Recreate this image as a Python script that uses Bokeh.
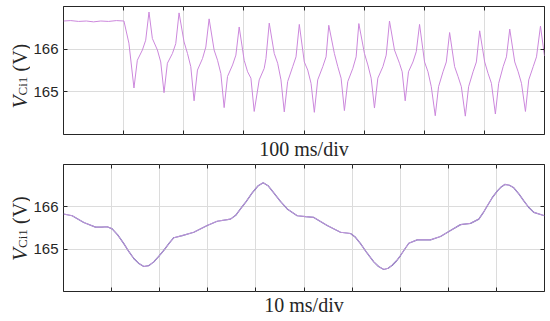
import math
from bokeh.plotting import figure
from bokeh.models import FixedTicker, LinearAxis, Range1d
from bokeh.layouts import column, row
from bokeh.core.properties import value
from bokeh.embed import file_html
from bokeh.resources import INLINE

# ---------------- data ----------------
# top panel: 100 ms/div, time in ms, voltage in V
top_t = [0, 12, 25, 38, 50, 62, 75, 88, 100.5,
         108.8, 117.2, 122.8, 131.2, 136.7, 142.2, 147.8, 156.2, 161.7,
         167.2, 172.8, 181.2, 186.7, 192.2, 200.5, 206.2, 211.7,
         217.2, 222.8, 231.2, 236.7, 242.2, 250.5, 256.2, 261.7,
         267.2, 272.8, 281.2, 286.7, 292.2, 300.5, 306.2, 311.7,
         317.2, 325.5, 333.8, 336.7, 342.2, 350.5, 356.2, 361.7,
         367.2, 372.8, 381.2, 386.7, 392.2, 400.5, 406.2, 411.7,
         417.2, 422.8, 431.2, 436.7, 441.2, 450.5, 456.2, 461.7,
         467.2, 472.8, 481.2, 486.7, 491.2, 500.5, 506.2, 511.7,
         517.2, 522.8, 531.2, 536.7, 542.2, 550.5, 558.8, 563.3,
         568.3, 573.8, 581.2, 586.7, 592.2, 600.5, 606.2, 611.7,
         618.3, 623.8, 631.2, 636.7, 642.2, 650.5, 656.2, 661.7,
         668.3, 673.8, 681.2, 686.7, 692.2, 700.5, 706.2, 711.7,
         718.3, 723.8, 731.2, 736.7, 742.2, 750.5, 756.2, 761.7,
         768.3, 773.8, 781.2, 786.7, 793.3, 800.0]
top_v = [166.66, 166.67, 166.65, 166.66, 166.64, 166.66, 166.65, 166.67, 166.66,
         166.14, 165.09, 165.74, 165.98, 166.21, 166.87, 166.25, 165.98, 165.70,
         164.98, 165.67, 165.90, 166.13, 166.85, 166.17, 165.90, 165.59,
         164.79, 165.51, 165.78, 166.05, 166.71, 165.98, 165.74, 165.43,
         164.63, 165.36, 165.63, 165.86, 166.52, 165.74, 165.47, 165.32,
         164.54, 165.28, 165.55, 165.78, 166.61, 165.90, 165.67, 165.28,
         164.53, 165.24, 165.59, 165.82, 166.58, 165.70, 165.51, 165.20,
         164.52, 165.28, 165.59, 165.82, 166.56, 165.90, 165.59, 165.32,
         164.56, 165.24, 165.55, 165.82, 166.60, 165.90, 165.63, 165.32,
         164.62, 165.32, 165.59, 165.86, 166.66, 165.98, 165.67, 165.47,
         164.79, 165.47, 165.70, 165.94, 166.58, 165.70, 165.47, 165.12,
         164.44, 165.12, 165.47, 165.70, 166.39, 165.59, 165.36, 165.12,
         164.43, 165.12, 165.47, 165.70, 166.43, 165.70, 165.43, 165.20,
         164.48, 165.20, 165.59, 165.82, 166.47, 165.70, 165.47, 165.20,
         164.54, 165.28, 165.59, 165.82, 166.54, 165.84]

# bottom panel: 10 ms/div
bot_t = [0.0, 1.81, 4.22, 6.65, 8.0, 9.09, 10.12, 11.3, 12.54, 13.6, 14.62, 15.6,
         16.69, 17.7, 18.77, 19.8, 20.85, 21.9, 22.93, 24.68, 27.09, 29.88, 31.95,
         34.72, 35.8, 36.80, 38.0, 39.23, 40.4, 41.52, 42.6, 43.72, 45.1, 46.51,
         48.59, 50.3, 52.04, 54.82, 57.59, 59.67, 60.7, 61.75, 63.1, 64.51, 65.5,
         66.59, 67.5, 68.34, 69.2, 70.06, 71.0, 71.79, 73.53, 76.30, 78.38, 80.46,
         82.54, 84.62, 86.34, 87.2, 88.09, 89.1, 90.17, 91.0, 91.75, 92.7, 93.62,
         94.7, 95.70, 96.7, 97.78, 100.0]
bot_v = [165.83, 165.79, 165.63, 165.52, 165.52, 165.53, 165.48, 165.33, 165.13, 164.94,
         164.78, 164.67, 164.59, 164.61, 164.70, 164.83, 164.97, 165.13, 165.27, 165.32,
         165.40, 165.56, 165.66, 165.71, 165.80, 165.95, 166.13, 166.33, 166.49, 166.57,
         166.49, 166.33, 166.13, 165.95, 165.79, 165.77, 165.75, 165.56, 165.40, 165.37,
         165.28, 165.13, 164.91, 164.70, 164.59, 164.52, 164.55, 164.62, 164.72, 164.85,
         165.01, 165.14, 165.22, 165.22, 165.30, 165.44, 165.58, 165.61, 165.71, 165.85,
         166.02, 166.21, 166.37, 166.47, 166.53, 166.51, 166.45, 166.30, 166.14, 165.99,
         165.87, 165.79]

y_ticks = [165, 166]
y_tick_labels = {165: "165", 166: "166"}
top_x_ticks = [0, 100, 200, 300, 400, 500, 600, 700, 800]
bot_x_ticks = [0, 10, 20, 30, 40, 50, 60, 70, 80, 90, 100]
top_div_label = "100 ms/div"
bot_div_label = "10 ms/div"
y_label_main = "V"
y_label_sub = "Ci1"
y_label_unit = "(V)"

FRAME = "#262626"
GRID = "#dcdcdc"
LAB_W = 30


def tick_axis(ax, ticker, ticks):
    ax.ticker = ticker
    ax.major_tick_in = 4
    ax.major_tick_out = 0
    ax.minor_tick_line_color = None
    ax.major_tick_line_color = FRAME
    ax.axis_line_color = None
    ax.major_label_overrides = {t: "" for t in ticks}
    ax.major_label_text_font_size = "1px"
    ax.major_label_standoff = 0


def make_panel(height, btop, bbot, xmax, xticks, t, v, div_label, lab_standoff, dark_under):
    p = figure(width=550 - LAB_W, height=height, output_backend="svg", toolbar_location=None,
               x_range=Range1d(0, xmax), y_range=Range1d(164, 167),
               min_border_left=63 - LAB_W, min_border_right=6,
               min_border_top=btop, min_border_bottom=bbot)
    xt = FixedTicker(ticks=xticks)
    yt = FixedTicker(ticks=y_ticks)
    xa = p.xaxis[0]
    tick_axis(xa, xt, xticks)
    xa.axis_label = div_label
    xa.axis_label_standoff = lab_standoff
    xa.axis_label_text_font = "Liberation Serif"
    xa.axis_label_text_font_style = "normal"
    xa.axis_label_text_font_size = "20px"
    xa.axis_label_text_color = FRAME
    p.xgrid.ticker = xt
    ya = p.yaxis[0]
    ya.ticker = yt
    ya.major_label_overrides = y_tick_labels
    ya.major_tick_in = 4
    ya.major_tick_out = 0
    ya.minor_tick_line_color = None
    ya.major_tick_line_color = FRAME
    ya.axis_line_color = None
    ya.major_label_text_font = "Liberation Sans"
    ya.major_label_text_font_size = "15px"
    ya.major_label_text_color = FRAME
    ya.major_label_standoff = 5
    p.ygrid.ticker = yt
    top_ax = LinearAxis()
    tick_axis(top_ax, xt, xticks)
    p.add_layout(top_ax, "above")
    right_ax = LinearAxis()
    tick_axis(right_ax, yt, y_ticks)
    p.add_layout(right_ax, "right")

    p.xgrid.grid_line_color = GRID
    p.ygrid.grid_line_color = GRID
    p.outline_line_color = FRAME
    p.outline_line_width = 1

    if dark_under:
        p.line(t, v, line_color="#3a3a90", line_width=1.2, line_alpha=0.8)
        p.line(t, v, line_color="#dba3e8", line_width=1.0, line_alpha=0.8)
    else:
        p.line(t, v, line_color="#cc88dc", line_width=1.0)

    # narrow figure on the left that carries the rotated y-axis title
    fh = height - btop - bbot
    lab = figure(width=LAB_W, height=height, output_backend="svg", toolbar_location=None,
                 x_range=Range1d(0, LAB_W), y_range=Range1d(0, fh),
                 x_axis_location=None, y_axis_location=None,
                 min_border_left=0, min_border_right=0,
                 min_border_top=btop, min_border_bottom=bbot,
                 outline_line_color=None)
    lab.grid.visible = False
    c = fh / 2.0 - btop
    common = dict(angle=math.pi / 2, text_align="left", text_baseline="alphabetic",
                  text_font=value("Liberation Serif"), text_color=FRAME)
    lab.text(x=[19], y=[c - 32], text=[y_label_main], text_font_size="21px",
             text_font_style="italic", **common)
    lab.text(x=[22], y=[c - 19], text=[y_label_sub], text_font_size="13px", **common)
    lab.text(x=[19], y=[c + 5], text=[y_label_unit], text_font_size="20px", **common)
    return row(lab, p)


r1 = make_panel(163, 6, 29, 800, top_x_ticks, top_t, top_v, top_div_label, 3, False)
r2 = make_panel(158, 1, 30, 100, bot_x_ticks, bot_t, bot_v, bot_div_label, 2, True)

p = column(r1, r2)
open("out.html", "w").write(file_html(p, INLINE))
